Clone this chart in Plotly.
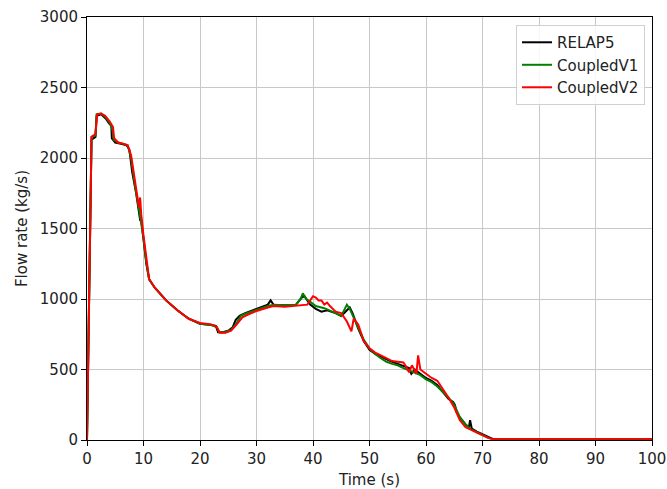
import plotly.graph_objects as go

# Flow rate histories (time in s, flow rate in kg/s)
relap5_t = [0, 0.3, 0.8, 1.5, 1.7, 2.5, 3.3, 4.0, 4.3, 4.4, 5.0, 6.0, 7.0, 7.5, 8.0, 8.7, 9.2, 9.4, 9.6, 10, 10.5, 11, 12, 14, 16, 18, 20, 22, 22.8, 23.2, 24, 25, 25.8, 26.3, 27, 28, 30, 32, 32.5, 33, 35, 37, 38, 38.5, 39.5, 40.5, 41.5, 42.5, 44, 45, 46, 46.5, 47, 48, 49, 50, 51, 52, 53, 54, 55, 56, 57, 57.4, 58, 59, 60, 61, 62, 63, 64, 64.8, 65.1, 65.4, 66, 67, 67.6, 67.8, 68.1, 69, 70, 71, 72, 75, 80, 90, 100]
relap5_q = [0, 800, 2130, 2150, 2300, 2310, 2280, 2240, 2230, 2140, 2110, 2100, 2090, 2060, 1900, 1750, 1620, 1560, 1560, 1420, 1250, 1140, 1080, 990, 920, 860, 825, 815, 810, 765, 765, 775, 800, 850, 880, 900, 930, 960, 990, 960, 955, 960, 1010, 1020, 960, 930, 910, 920, 900, 880, 920, 940, 900, 790, 700, 640, 610, 590, 570, 555, 540, 525, 510, 470, 500, 470, 440, 420, 390, 340, 290, 270, 250, 200, 160, 110, 90, 140, 80, 60, 40, 20, 5, 5, 5, 5, 5]

v1_t = [0, 0.3, 0.8, 1.5, 1.7, 2.5, 3.3, 4.0, 4.5, 4.7, 5.5, 6.5, 7.2, 7.8, 8.5, 9.2, 9.6, 10, 10.5, 11, 12, 14, 16, 18, 20, 22, 23, 23.4, 24.5, 25.5, 26.5, 27.2, 28, 30, 32, 33, 35, 37, 37.8, 38.2, 38.8, 39.5, 40.5, 42, 43, 44, 45, 46, 46.5, 47.2, 48, 49, 50, 51, 52, 53, 54, 55, 56, 57, 58, 59, 60, 61, 62, 63, 64, 65, 66, 67, 68, 69, 70, 71, 72, 80, 100]
v1_q = [0, 800, 2150, 2160, 2310, 2315, 2290, 2250, 2200, 2130, 2110, 2100, 2090, 2000, 1800, 1640, 1540, 1430, 1260, 1140, 1080, 990, 920, 860, 825, 815, 800, 765, 765, 780, 830, 880, 895, 925, 950, 960, 955, 960, 1000, 1040, 1000, 980, 950, 935, 920, 900, 880, 960, 930, 870, 800, 710, 650, 610, 580, 555, 540, 530, 510, 495, 480, 460, 430, 410, 380, 340, 300, 250, 160, 110, 75, 55, 35, 15, 5, 5, 5]

v2_t = [0, 0.3, 0.8, 1.5, 1.8, 2.5, 3.2, 4.0, 4.6, 4.8, 5.5, 6.5, 7.2, 7.8, 8.5, 9.2, 9.4, 9.6, 10, 10.5, 11, 12, 14, 16, 18, 20, 22, 23, 23.5, 24.5, 25.5, 26.5, 27.5, 28.5, 30, 32, 33, 35, 37, 39, 40, 40.5, 41, 41.5, 42, 42.5, 43, 44, 45, 46, 46.8, 47.2, 48, 49, 50, 51, 52, 53, 54, 55, 56, 56.5, 57, 57.5, 58.3, 58.6, 59, 60, 61, 62, 63, 64, 65, 66, 67, 68, 69, 70, 71, 72, 80, 100]
v2_q = [0, 800, 2150, 2170, 2310, 2315, 2300, 2260, 2220, 2140, 2110, 2100, 2090, 2020, 1820, 1650, 1720, 1600, 1450, 1280, 1140, 1080, 990, 920, 860, 830, 820, 800, 760, 760, 775, 820, 870, 890, 915, 940, 950, 945, 955, 960, 1020, 1010, 990, 990, 960, 975, 950, 910, 900, 840, 770, 860, 820, 700, 650, 620, 600, 580, 560, 555, 550, 520, 480, 530, 470, 600, 500, 470, 440, 420, 360, 300, 230, 140, 90, 70, 50, 30, 15, 5, 5, 5]

x_ticks = [0, 10, 20, 30, 40, 50, 60, 70, 80, 90, 100]
y_ticks = [0, 500, 1000, 1500, 2000, 2500, 3000]

series = [
    ("RELAP5", relap5_t, relap5_q, "black"),
    ("CoupledV1", v1_t, v1_q, "green"),
    ("CoupledV2", v2_t, v2_q, "red"),
]

fig = go.Figure()
for name, t, q, color in series:
    fig.add_trace(go.Scatter(x=t, y=q, mode="lines", name=name,
                             line=dict(color=color, width=2)))

axis_common = dict(
    showline=True, linecolor="black", linewidth=1, mirror=True,
    showgrid=True, gridcolor="#c8c8c8", gridwidth=1,
    ticks="outside", ticklen=5, tickcolor="black",
    zeroline=False, tickfont=dict(size=15, color="#222"),
    automargin=False,
)

fig.update_layout(
    width=667, height=489,
    margin=dict(l=87, r=15, t=17, b=49),
    paper_bgcolor="white", plot_bgcolor="white",
    font=dict(family="DejaVu Sans", size=15, color="#222"),
    xaxis=dict(range=[0, 100], tickvals=x_ticks,
               title=dict(text="Time (s)", standoff=8, font=dict(size=15)),
               **axis_common),
    yaxis=dict(range=[0, 3000], tickvals=y_ticks,
               title=dict(text="Flow rate (kg/s)", standoff=8, font=dict(size=15)),
               **axis_common),
    legend=dict(x=0.9876, y=0.981, xanchor="right", yanchor="top",
                bgcolor="rgba(255,255,255,0.85)", bordercolor="#d0d0d0",
                borderwidth=1, font=dict(size=15), tracegroupgap=0),
    showlegend=True,
)

fig.write_html("out.html")
